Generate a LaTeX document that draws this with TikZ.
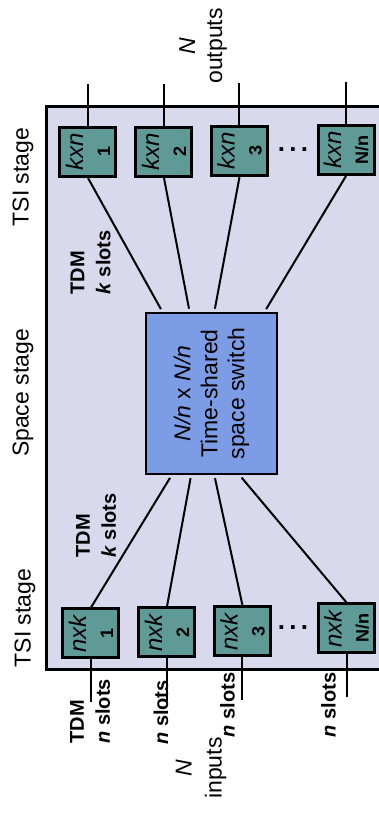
\documentclass[tikz,border=0pt]{standalone}
\usepackage{fontspec}
\setmainfont{Liberation Sans}
\usetikzlibrary{positioning}
\definecolor{mlav}{RGB}{217, 217, 237}
\definecolor{mteal}{RGB}{96, 154, 151}
\definecolor{mblue}{RGB}{124, 157, 230}
\tikzset{tsi/.style = {draw, line width = 1.5pt, fill = mteal, minimum width = 24.5pt, minimum height = 28pt, inner sep = 0, align = center, font = \fontsize{12}{13.5}\selectfont}}
\tikzset{stage/.style = {inner sep = 0, font = \fontsize{11.5}{13.5}\selectfont}}
\tikzset{lbl/.style = {inner sep = 0, align = left, font = \fontsize{10}{13}\selectfont\bfseries}}
\tikzset{wire/.style = {line width = 1pt}}
\newcommand{\tsinum}[1]{\textbf{\fontsize{9}{9}\selectfont #1}}

\begin{document}
\begin{tikzpicture}[x = 0.5pt, y = 0.5pt, rotate = 90, transform shape]
      \useasboundingbox (0, 0) rectangle (818, 379);

      % frame round the three stages, open on the far side
      \fill [mlav] (148, 0) rectangle (711, 332);
      \draw [line width = 1.5pt] (148, 0) -- (148, 332) -- (711, 332) -- (711, 0);

      \node [stage] (tsiin) at (200, 354) {TSI stage};
      \node [stage] (space) at (425, 356) {Space stage};
      \node [stage] (tsiout) at (641, 356) {TSI stage};

      % input TSIs
      \node [tsi] (in1) at (184.5, 288) {\textit{nxk}\\ \tsinum{1}};
      \node [tsi] (in2) at (185.5, 212) {\textit{nxk}\\ \tsinum{2}};
      \node [tsi] (in3) at (186.5, 136.5) {\textit{nxk}\\ \tsinum{3}};
      \node [tsi] (in4) at (189.5, 32.5) {\textit{nxk}\\ \tsinum{N/n}};
      \node [font = \fontsize{13}{13}\selectfont\bfseries, rotate = -90] (dotsin) at (190, 86) {.\,.\,.};

      % output TSIs
      \node [tsi] (out1) at (666, 291) {\textit{kxn}\\ \tsinum{1}};
      \node [tsi] (out2) at (666, 215) {\textit{kxn}\\ \tsinum{2}};
      \node [tsi] (out3) at (667, 139.5) {\textit{kxn}\\ \tsinum{3}};
      \node [tsi] (out4) at (668, 33) {\textit{kxn}\\ \tsinum{N/n}};
      \node [font = \fontsize{13}{13}\selectfont\bfseries, rotate = -90] (dotsout) at (668, 86) {.\,.\,.};

      % space switch
      \node [draw, line width = 1.3pt, fill = mblue, minimum width = 80.5pt, minimum height = 65.5pt, align = center, font = \fontsize{11.5}{13.5}\selectfont] (sw) at (424.5, 167.5) {\textit{N/n} x \textit{N/n}\\ Time-shared\\ space switch};

      \draw [wire] (in1.west) -- ++(-43, 0) coordinate (src1);
      \draw [wire] (in2.west) -- ++(-43, 0) coordinate (src2);
      \draw [wire] (in3.west) -- ++(-43, 0) coordinate (src3);
      \draw [wire] (in4.west) -- ++(-43, 0) coordinate (src4);

      \draw [wire, shorten > = 1.5pt] (in1.east) -- (sw.154);
      \draw [wire, shorten > = 1.5pt] (in2.east) -- (sw.166);
      \draw [wire, shorten > = 1.5pt] (in3.east) -- (sw.182);
      \draw [wire, shorten > = 1.5pt] (in4.east) -- (sw.199);

      \draw [wire, shorten < = 1.5pt] (sw.31) -- (out1.west);
      \draw [wire, shorten < = 1.5pt] (sw.15) -- (out2.west);
      \draw [wire, shorten < = 1.5pt] (sw.358) -- (out3.west);
      \draw [wire, shorten < = 1.5pt] (sw.327) -- (out4.west);

      \draw [wire] (out1.east) -- ++(42, 0) coordinate (dst1);
      \draw [wire] (out2.east) -- ++(42, 0) coordinate (dst2);
      \draw [wire] (out3.east) -- ++(42, 0) coordinate (dst3);
      \draw [wire] (out4.east) -- ++(42, 0) coordinate (dst4);

      % slot counts
      \node [lbl, anchor = west] (tdmin) at (74, 289) {TDM\\ \textit{n} slots};
      \node [lbl] (slots2) at (105.5, 218) {\textit{n} slots};
      \node [lbl] (slots3) at (113, 151.5) {\textit{n} slots};
      \node [lbl] (slots4) at (113, 50.5) {\textit{n} slots};
      \node [lbl, anchor = west] (tdmsw) at (260, 283) {TDM\\ \textit{k} slots};
      \node [lbl, anchor = west] (tdmout) at (523, 288.5) {TDM\\ \textit{k} slots};

      \node [stage, align = center, font = \fontsize{11.5}{15}\selectfont] (inputs) at (50, 178) {\textit{N}\\ inputs};
      \node [stage, align = center] (outputs) at (772, 176) {\textit{N}\\ outputs};
    \end{tikzpicture}
\end{document}
